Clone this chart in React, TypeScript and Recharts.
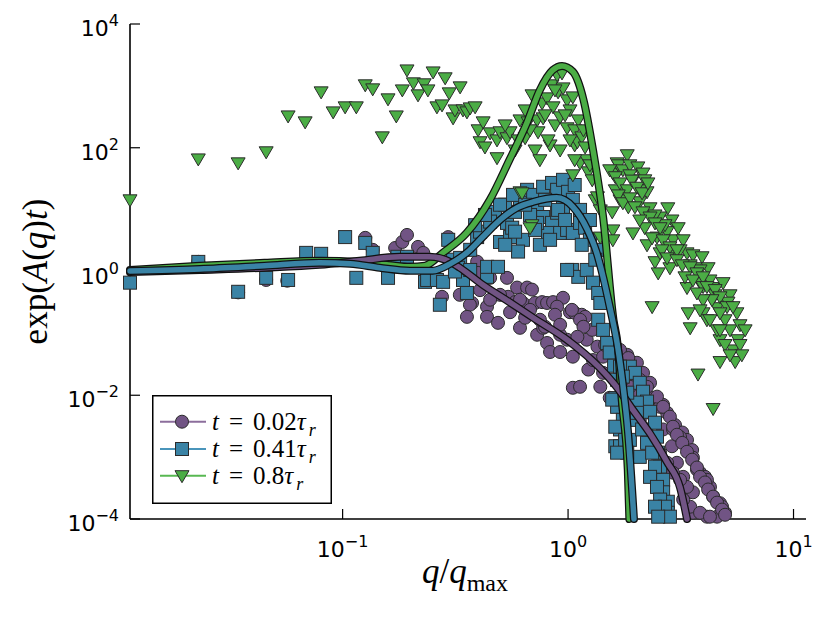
import React from 'react'
import { Legend, Scatter, ScatterChart, XAxis, YAxis } from 'recharts'

// measured points, [q/qmax, exp(A(q)t)]
const shortTimePoints: [number, number][] = [
  [0.0229, 1.43], [0.0344, 0.46], [0.0458, 0.73], [0.0568, 0.71], [0.126, 3.5], [0.136, 2.24],
  [0.171, 2.4], [0.184, 3.0], [0.193, 3.9], [0.216, 2.5], [0.228, 2.0], [0.294, 3.6],
  [0.395, 1.44], [0.399, 0.95], [0.451, 0.79], [0.536, 0.79], [0.276, 0.39], [0.375, 0.31],
  [0.437, 0.27], [0.437, 0.185], [0.542, 0.39], [0.594, 0.55], [0.658, 0.55], [0.692, 0.51],
  [0.582, 0.32], [0.553, 0.22], [0.631, 0.31], [0.714, 0.31], [0.767, 0.32], [0.807, 0.31],
  [0.858, 0.32], [0.95, 0.376], [0.894, 0.27], [1.02, 0.22], [1.07, 0.215], [1.15, 0.2],
  [1.19, 0.185], [0.367, 0.29], [0.356, 0.185], [0.489, 0.148], [0.612, 0.123], [0.645, 0.179],
  [0.729, 0.095], [0.775, 0.123], [0.807, 0.07], [0.832, 0.05], [0.922, 0.05], [0.99, 0.079],
  [1.04, 0.24], [1.05, 0.042], [1.13, 0.166], [1.05, 0.0132], [1.13, 0.0137], [1.23, 0.026],
  [1.29, 0.037], [1.39, 0.0137], [1.53, 0.0091], [1.21, 0.079], [1.28, 0.114], [1.35, 0.061],
  [1.43, 0.042], [1.43, 0.023], [1.83, 0.045], [2.02, 0.0335], [2.15, 0.023], [2.31, 0.0159],
  [2.64, 0.007], [2.75, 0.0052], [2.98, 0.0033], [3.21, 0.0025], [3.37, 0.0019], [3.55, 0.0013],
  [3.58, 0.00098], [3.85, 0.00056], [4.05, 0.00048], [4.26, 0.00033], [4.4, 0.00023], [4.72, 0.00018],
  [4.97, 0.000126], [4.58, 0.000109], [4.13, 0.000109], [3.58, 0.000126], [3.41, 0.00027], [3.24, 0.00048],
  [3.04, 0.00081], [2.89, 0.0015], [2.64, 0.0028], [2.92, 0.0028], [3.73, 0.00063], [4.13, 0.00043],
  [4.82, 0.000158], [2.38, 0.0091], [2.02, 0.019], [1.17, 0.128], [1.1, 0.088], [2.08, 0.0178],
  [2.24, 0.0137], [2.56, 0.0065], [3.14, 0.0021], [0.79, 0.128], [0.922, 0.095],
  [2.48, 0.0095], [2.64, 0.0065], [2.83, 0.0045], [2.92, 0.0031], [3.04, 0.0023], [3.21, 0.0017],
  [3.37, 0.00122], [3.55, 0.00091], [3.73, 0.00068], [3.85, 0.00048], [4.05, 0.00039], [4.18, 0.0003],
  [4.4, 0.00023], [4.58, 0.000184], [4.82, 0.000142], [4.97, 0.000117], [3.58, 0.00027], [3.37, 0.00033],
  [3.14, 0.00043], [2.92, 0.00056], [2.75, 0.00081], [2.56, 0.00118], [2.38, 0.0017], [2.24, 0.0025],
  [2.08, 0.004], [3.48, 0.000158], [3.85, 0.000126], [4.26, 0.000109], [3.24, 0.000206], [2.15, 0.0085],
  [2.02, 0.011], [1.88, 0.0137], [1.75, 0.0178], [2.31, 0.0052], [1.46, 0.065], [1.57, 0.05],
  [1.7, 0.054], [1.85, 0.04], [0.612, 0.35], [0.678, 0.24], [0.75, 0.166], [0.875, 0.2],
  [0.922, 0.138], [0.499, 0.42], [0.451, 0.35], [0.407, 0.5], [0.331, 0.42]
]

const midTimePoints: [number, number][] = [
  [0.0114, 0.66], [0.0229, 1.43], [0.0344, 0.47], [0.0458, 0.79], [0.0573, 0.73], [0.0689, 2.0],
  [0.0803, 1.93], [0.1026, 3.6], [0.126, 2.9], [0.136, 2.0], [0.115, 0.79], [0.159, 0.79],
  [0.175, 1.73], [0.193, 1.73], [0.232, 0.68], [0.294, 3.25], [0.27, 0.29], [0.237, 0.73],
  [0.262, 0.73], [0.309, 1.55], [0.332, 1.66], [0.342, 0.73], [0.356, 0.45], [0.395, 3.6],
  [0.407, 4.4], [0.437, 0.82], [0.437, 1.19], [0.489, 1.19], [0.474, 9.2], [0.499, 3.0],
  [0.536, 6.1], [0.553, 3.6], [0.582, 9.2], [0.631, 3.25], [0.612, 14.4], [0.658, 20.9],
  [0.7, 17.3], [0.729, 9.9], [0.775, 7.6], [0.775, 23.4], [0.849, 27], [0.894, 20.9],
  [0.95, 30.3], [1.0, 19.4], [1.05, 14.4], [1.13, 9.9], [0.849, 6.1], [0.815, 4.2],
  [0.922, 4.2], [0.99, 4.7], [1.05, 4.2], [1.13, 6.1], [1.19, 5.1], [1.25, 3.25],
  [1.35, 2.24], [1.04, 1.06], [1.11, 0.82], [1.21, 1.06], [1.29, 0.66], [1.36, 0.45],
  [1.39, 0.31], [0.729, 6.1], [0.894, 8.9], [0.95, 11.1], [0.6, 2.1], [1.36, 0.166],
  [1.43, 0.114], [1.49, 0.07], [1.53, 0.049], [1.65, 0.0178], [1.65, 0.0065], [1.62, 0.0015],
  [2.08, 0.00101], [1.88, 0.029], [1.98, 0.023], [2.08, 0.0159], [2.15, 0.0114], [2.24, 0.0079],
  [2.31, 0.0054], [2.43, 0.0036], [2.48, 0.00214], [2.51, 0.00118], [2.56, 0.0007], [2.64, 0.00043],
  [2.64, 0.00027], [2.77, 0.00019], [2.77, 0.000126], [2.61, 0.000126], [1.94, 0.004], [1.88, 0.0019],
  [2.02, 0.0076], [1.83, 0.00118], [1.7, 0.0015], [0.99, 1.06], [0.451, 6.4], [0.526, 12],
  [0.678, 8.2], [0.791, 14.4], [0.565, 5.1], [0.368, 2.24], [0.325, 1.15], [0.279, 0.68],
  [1.6, 0.03], [1.62, 0.009],
  [1.7, 0.029], [1.75, 0.02], [1.83, 0.011], [1.75, 0.004], [1.7, 0.0028], [1.79, 0.0019],
  [2.02, 0.0052], [2.13, 0.0028], [2.24, 0.0017], [2.36, 0.00118], [2.43, 0.0007], [2.31, 0.00048],
  [2.48, 0.00033], [2.56, 0.000206], [2.69, 0.000158], [2.43, 0.000158], [2.83, 0.000109], [2.51, 0.000109],
  [1.57, 0.0085], [1.62, 0.0031], [1.65, 0.00118],
  [0.387, 5.6], [0.428, 8.2], [0.499, 12], [0.57, 17.3], [0.645, 12], [0.714, 4.7],
  [0.75, 2.7], [0.832, 3.25], [0.903, 9.9], [0.97, 6.8], [1.07, 25], [1.25, 6.8],
  [1.32, 1.55], [1.15, 2.7], [0.368, 1.06], [0.315, 1.0], [0.526, 2.7], [0.582, 4.4]
]

const longTimePoints: [number, number][] = [
  [0.0114, 14.4], [0.0229, 66], [0.0344, 57], [0.0458, 86], [0.0573, 327], [0.0682, 262],
  [0.0803, 800], [0.0908, 380], [0.1026, 458], [0.115, 458], [0.126, 1040], [0.136, 895],
  [0.15, 150], [0.159, 617], [0.173, 327], [0.184, 861], [0.193, 1810], [0.206, 1120],
  [0.216, 716], [0.23, 1080], [0.239, 861], [0.252, 1680], [0.262, 458], [0.276, 493],
  [0.285, 1350], [0.297, 771], [0.309, 304], [0.315, 409], [0.332, 964], [0.342, 409],
  [0.356, 380], [0.368, 441], [0.387, 458], [0.399, 195], [0.407, 125], [0.42, 262],
  [0.428, 103], [0.451, 174], [0.484, 134], [0.484, 69], [0.499, 181], [0.536, 145],
  [0.553, 181], [0.6, 134], [0.612, 282], [0.612, 19.4], [0.645, 145], [0.665, 262],
  [0.692, 716], [0.692, 5.7], [0.729, 282], [0.736, 181], [0.767, 531], [0.775, 304],
  [0.807, 640], [0.832, 111], [0.849, 1040], [0.858, 458], [0.875, 234], [0.894, 1510],
  [0.903, 800], [0.922, 316], [0.94, 1620], [0.95, 928], [0.99, 594], [0.99, 210],
  [1.02, 409], [1.05, 664], [1.07, 195], [1.07, 111], [1.1, 125], [1.13, 57],
  [1.15, 150], [1.19, 103], [1.21, 64], [1.05, 36.5], [1.23, 40.8], [1.28, 30.3],
  [1.32, 14.4], [1.35, 16.1], [1.39, 9.9], [1.39, 3.6], [1.57, 9.2], [1.58, 4.7],
  [1.58, 3.25], [1.58, 39], [1.65, 57], [1.67, 53], [1.75, 44], [1.83, 77],
  [1.88, 53], [1.94, 30.3], [2.04, 49], [2.15, 39], [2.19, 30.3], [1.79, 19.4],
  [2.24, 19.4], [1.85, 11.1], [2.08, 13.4], [2.31, 10.7], [1.94, 4.2], [2.77, 10.7],
  [2.56, 7.6], [2.89, 6.8], [3.08, 5.1], [2.24, 2.7], [2.48, 3.6], [2.75, 4.4],
  [2.92, 3.25], [3.24, 3.25], [2.43, 1.44], [2.51, 0.95], [2.56, 2.0], [2.83, 1.15],
  [2.98, 1.86], [3.37, 2.0], [3.58, 1.86], [3.93, 1.73], [4.18, 1.15], [3.66, 1.15],
  [3.37, 0.55], [3.85, 0.66], [4.35, 0.55], [4.87, 0.66], [5.23, 0.42], [3.41, 0.215],
  [3.97, 0.215], [4.58, 0.26], [5.07, 0.31], [5.61, 0.215], [2.36, 0.27], [3.48, 0.123],
  [4.13, 0.166], [4.72, 0.079], [5.12, 0.32], [5.67, 0.079], [5.39, 0.054], [4.72, 0.035],
  [5.51, 0.035], [3.77, 0.022], [4.4, 0.0061], [4.58, 0.114], [3.97, 0.57], [1.88, 36.5],
  [1.62, 20.9], [1.7, 14.4], [2.08, 20.9], [2.43, 8.2], [2.69, 5.7], [3.14, 2.24],
  [3.48, 1.28], [3.85, 1.06], [4.26, 0.73], [4.49, 0.42], [4.97, 0.166], [5.23, 0.114],
  [5.79, 0.138], [0.678, 5.1], [0.625, 18.7],
  [1.53, 44], [1.62, 34], [1.7, 27], [1.83, 20.9], [1.92, 30], [2.02, 23],
  [2.13, 18.7], [2.26, 27], [1.67, 17.3], [1.75, 12.9], [1.88, 15.5], [1.98, 11.1],
  [2.15, 9.2], [2.31, 7.6], [2.43, 6.1], [2.56, 5.1], [2.19, 5.1], [2.08, 6.8],
  [2.36, 3.5], [2.64, 3.25], [2.83, 2.5], [3.04, 2.24], [2.61, 2.24], [2.75, 1.66],
  [3.04, 1.55], [3.21, 1.28], [3.48, 1.19], [3.73, 0.95], [3.3, 0.82], [3.58, 0.73],
  [3.97, 0.82], [4.13, 0.57], [4.49, 0.51], [4.72, 0.39], [4.35, 0.35], [5.07, 0.27],
  [5.39, 0.27], [4.72, 0.215], [3.97, 0.35], [3.73, 0.45], [4.72, 0.114], [4.97, 0.066],
  [5.79, 0.066], [5.9, 0.045], [5.23, 0.045], [4.26, 0.166], [3.85, 0.24], [6.1, 0.114],
  [0.645, 409], [0.678, 195], [0.714, 92], [0.791, 340], [0.815, 134], [0.875, 861],
  [0.97, 340], [1.02, 134], [1.07, 64], [1.11, 282], [1.17, 195], [1.25, 53],
  [0.922, 92], [0.75, 64], [0.582, 92], [0.526, 234]
]

// fitted curves
const shortTimeFit: [number, number][] = [
  [0.0114, 0.98], [0.0233, 1.06], [0.045, 1.15], [0.079, 1.28], [0.119, 1.49], [0.179, 1.73],
  [0.243, 1.73], [0.3, 1.43], [0.331, 1.15], [0.418, 0.61], [0.55, 0.32], [0.7, 0.179],
  [0.99, 0.079], [1.38, 0.0279], [1.64, 0.0137], [1.94, 0.0058], [2.31, 0.0024], [2.74, 0.00085],
  [3.14, 0.00032], [3.37, 0.0001]
]

const midTimeFit: [number, number][] = [
  [0.0114, 1.02], [0.0233, 1.1], [0.045, 1.24], [0.079, 1.38], [0.108, 1.33], [0.146, 1.15],
  [0.199, 1.03], [0.251, 1.03], [0.3, 1.33], [0.355, 2.0], [0.418, 3.6], [0.499, 6.8],
  [0.593, 10.7], [0.7, 13.3], [0.89, 15.5], [1.05, 11.1], [1.21, 5.0], [1.34, 2.0],
  [1.43, 0.82], [1.53, 0.27], [1.66, 0.061], [1.75, 0.0149], [1.84, 0.0028], [1.96, 0.0001]
]

const longTimeFit: [number, number][] = [
  [0.0114, 1.06], [0.0233, 1.24], [0.045, 1.38], [0.079, 1.49], [0.119, 1.43], [0.16, 1.28],
  [0.199, 1.19], [0.232, 1.24], [0.278, 2.0], [0.355, 4.2], [0.45, 14.4], [0.55, 64],
  [0.656, 250], [0.75, 860], [0.855, 1800], [0.94, 2100], [1.05, 1700], [1.17, 600],
  [1.29, 92], [1.43, 7.6], [1.59, 0.166], [1.66, 0.065], [1.73, 0.0085], [1.84, 0.00063],
  [1.87, 0.0001]
]

const legendTimes = ['0.02', '0.41', '0.8']
const qTicks = [0.1, 1, 10]
const yTicks = [1e-4, 1e-2, 1, 1e2, 1e4]

const PURPLE = '#715484'
const BLUE = '#3a83a5'
const GREEN = '#4bad45'
const EDGE = '#2b2b2b'

const toRows = (pts: [number, number][]) => pts.map(([q, v]) => ({ q, v }))

const CircleMark = (p: any) => (
  <circle cx={p.cx} cy={p.cy} r={6.5} fill={PURPLE} stroke={EDGE} strokeWidth={1} />
)
const SquareMark = (p: any) => (
  <rect x={p.cx - 6.5} y={p.cy - 6.5} width={13} height={13} fill={BLUE} stroke={EDGE} strokeWidth={1} />
)
const TriMark = (p: any) => (
  <path
    d={`M${p.cx - 7},${p.cy - 5} L${p.cx + 7},${p.cy - 5} L${p.cx},${p.cy + 7} Z`}
    fill={GREEN}
    stroke={EDGE}
    strokeWidth={1}
    strokeLinejoin="round"
  />
)
const NoMark = () => <g />

const expText = (v: number) => {
  const e = Math.round(Math.log10(v))
  return e < 0 ? `\u2212${-e}` : `${e}`
}

function XTick(props: any) {
  const { x, y, payload } = props
  return (
    <text x={x} y={y} textAnchor="middle" fontFamily="DejaVu Sans" fontSize={22} fill="#000">
      10
      <tspan dy={-10} fontSize={16}>{expText(payload.value)}</tspan>
    </text>
  )
}

function YTick(props: any) {
  const { x, y, payload } = props
  return (
    <text x={x} y={y + 12} textAnchor="end" fontFamily="DejaVu Sans" fontSize={22} fill="#000">
      10
      <tspan dy={-10} fontSize={16}>{expText(payload.value)}</tspan>
    </text>
  )
}

function XTitle(props: any) {
  const vb = props.viewBox
  return (
    <text x={vb.x + 335} y={vb.y + 64} textAnchor="middle" fontFamily="Liberation Serif" fontSize={35} fill="#000">
      <tspan fontStyle="italic">q</tspan>/<tspan fontStyle="italic">q</tspan>
      <tspan dy={8} fontSize={24}>max</tspan>
    </text>
  )
}

function YTitle(props: any) {
  const vb = props.viewBox
  const cx = vb.x + vb.width - 83
  const cy = vb.y + vb.height / 2
  return (
    <text
      x={cx}
      y={cy}
      transform={`rotate(-90, ${cx}, ${cy})`}
      textAnchor="middle"
      fontFamily="Liberation Serif"
      fontSize={35}
      fill="#000"
    >
      exp(<tspan fontStyle="italic">A</tspan>(<tspan fontStyle="italic">q</tspan>)<tspan fontStyle="italic">t</tspan>)
    </text>
  )
}

const legendStyles = [
  { fill: PURPLE, line: '#8c6e9c', mark: 'circle' },
  { fill: BLUE, line: '#4a95bb', mark: 'square' },
  { fill: GREEN, line: '#58b852', mark: 'tri' }
]

const LEGEND_FONT = 25
// rough advance of a number string in Liberation Serif
const numberWidth = (s: string) =>
  s.split('').reduce((w, c) => w + (c === '.' ? 0.25 : 0.5), 0) * LEGEND_FONT

function LegendBox() {
  const rowY = [26.7, 54, 80.7]
  const serif = { fontFamily: 'Liberation Serif', fill: '#000' }
  return (
    <svg width={181} height={110}>
      <rect x={0.75} y={0.75} width={178.5} height={107.5} fill="#fff" stroke="#000" strokeWidth={1.5} />
      {legendTimes.map((t, i) => {
        const s = legendStyles[i]
        const y = rowY[i]
        const numX = 101
        const tauX = numX + numberWidth(t)
        return (
          <g key={t}>
            <line x1={8} x2={54} y1={y} y2={y} stroke={s.line} strokeWidth={2} />
            {s.mark === 'circle' && <CircleMark cx={30} cy={y} />}
            {s.mark === 'square' && <SquareMark cx={30} cy={y} />}
            {s.mark === 'tri' && <TriMark cx={30} cy={y} />}
            <text x={60} y={y + 8} fontSize={LEGEND_FONT} fontStyle="italic" {...serif}>t</text>
            <text x={77} y={y + 8} fontSize={LEGEND_FONT} {...serif}>=</text>
            <text x={numX} y={y + 8} fontSize={LEGEND_FONT} {...serif}>{t}</text>
            <text x={tauX} y={y + 8} fontSize={LEGEND_FONT} fontStyle="italic" {...serif}>τ</text>
            <text x={tauX + 12} y={y + 14} fontSize={18} fontStyle="italic" {...serif}>r</text>
          </g>
        )
      })}
    </svg>
  )
}

export default function App() {
  const fitLine = (stroke: string, width: number) => ({
    stroke,
    strokeWidth: width,
    strokeLinecap: 'round',
    strokeLinejoin: 'round'
  })

  return (
    <div style={{ width: 830, height: 623, background: '#fff' }}>
      <style>{'body{margin:0}'}</style>
      <ScatterChart width={830} height={623} margin={{ top: 24, right: 24, bottom: 44, left: 70 }}>
        <XAxis
          dataKey="q"
          type="number"
          scale="log"
          domain={[0.01143, 11.36]}
          ticks={qTicks}
          height={60}
          tickSize={-10}
          tickMargin={48}
          tick={<XTick />}
          tickLine={{ stroke: '#000', strokeWidth: 1.2 }}
          axisLine={{ stroke: '#000', strokeWidth: 1.6 }}
          label={<XTitle />}
        />
        <YAxis
          dataKey="v"
          type="number"
          scale="log"
          domain={[1e-4, 1e4]}
          ticks={yTicks}
          width={60}
          tickSize={-10}
          tickMargin={21}
          tick={<YTick />}
          tickLine={{ stroke: '#000', strokeWidth: 1.2 }}
          axisLine={{ stroke: '#000', strokeWidth: 1.6 }}
          label={<YTitle />}
        />
        <Scatter data={toRows(shortTimePoints)} shape={CircleMark} isAnimationActive={false} />
        <Scatter data={toRows(midTimePoints)} shape={SquareMark} isAnimationActive={false} />
        <Scatter data={toRows(longTimePoints)} shape={TriMark} isAnimationActive={false} />

        <Scatter data={toRows(longTimeFit)} shape={NoMark} line={fitLine('#111', 8)} lineJointType="monotoneX" isAnimationActive={false} />
        <Scatter data={toRows(longTimeFit)} shape={NoMark} line={fitLine(GREEN, 5.5)} lineJointType="monotoneX" isAnimationActive={false} />
        <Scatter data={toRows(shortTimeFit)} shape={NoMark} line={fitLine('#111', 8)} lineJointType="monotoneX" isAnimationActive={false} />
        <Scatter data={toRows(shortTimeFit)} shape={NoMark} line={fitLine(PURPLE, 5.5)} lineJointType="monotoneX" isAnimationActive={false} />
        <Scatter data={toRows(midTimeFit)} shape={NoMark} line={fitLine('#111', 8)} lineJointType="monotoneX" isAnimationActive={false} />
        <Scatter data={toRows(midTimeFit)} shape={NoMark} line={fitLine(BLUE, 5.5)} lineJointType="monotoneX" isAnimationActive={false} />

        <Legend
          layout="vertical"
          align="center"
          verticalAlign="middle"
          wrapperStyle={{ left: 152, top: 395, width: 181, height: 110 }}
          content={() => <LegendBox />}
        />
      </ScatterChart>
    </div>
  )
}
